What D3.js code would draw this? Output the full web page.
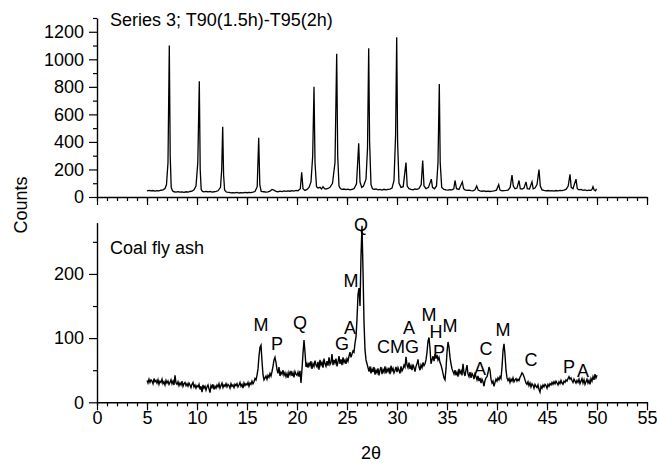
<!DOCTYPE html>
<html>
<head>
<meta charset="utf-8">
<script src="https://cdn.jsdelivr.net/npm/d3@7"></script>
<style>
  body { margin: 0; background: #fff; }
  svg text { font-family: "Liberation Sans", Arial, sans-serif; fill: #000; }
</style>
</head>
<body>
<svg id="chart" width="657" height="465"></svg>
<script>
// top pattern: [2theta, counts]
const seriesTop = [
  [5.0,45],[5.2,48],[5.4,44],[5.6,47],[5.8,43],[6.0,46],[6.2,44],[6.4,49],[6.6,52],[6.8,62],
  [6.95,90],[7.1,250],[7.23,1100],[7.32,300],[7.42,70],[7.55,45],[7.7,38],[7.9,36],[8.1,39],[8.3,35],
  [8.5,37],[8.7,34],[8.9,38],[9.1,36],[9.3,40],[9.5,42],[9.7,52],[9.9,80],[10.08,250],[10.23,840],
  [10.32,200],[10.42,55],[10.55,40],[10.7,38],[10.9,41],[11.1,37],[11.3,40],[11.5,36],[11.7,38],[11.9,41],
  [12.1,45],[12.35,70],[12.47,200],[12.57,510],[12.66,160],[12.76,50],[12.9,38],[13.0,35],[13.2,33],[13.4,30],
  [13.6,32],[13.8,30],[14.0,33],[14.2,29],[14.4,32],[14.6,30],[14.8,33],[15.0,31],[15.2,34],[15.4,32],
  [15.6,35],[15.8,40],[16.02,75],[16.17,430],[16.28,90],[16.42,40],[16.7,38],[16.9,35],[17.1,37],[17.3,42],
  [17.5,55],[17.7,50],[17.9,40],[18.1,37],[18.3,42],[18.5,39],[18.7,44],[18.9,41],[19.1,45],[19.3,42],
  [19.5,46],[19.7,43],[19.9,48],[20.1,45],[20.33,60],[20.47,180],[20.6,60],[20.8,48],[21.0,55],[21.2,70],
  [21.4,110],[21.57,300],[21.7,800],[21.8,250],[21.95,75],[22.1,65],[22.3,70],[22.45,58],[22.6,75],[22.75,60],
  [22.9,58],[23.1,62],[23.3,70],[23.55,100],[23.8,250],[23.97,1040],[24.07,300],[24.2,80],[24.35,60],[24.5,55],
  [24.7,58],[24.9,54],[25.1,57],[25.3,52],[25.5,56],[25.7,60],[25.95,95],[26.17,390],[26.3,110],[26.47,70],
  [26.65,80],[26.9,130],[27.05,350],[27.17,1080],[27.26,400],[27.4,90],[27.55,60],[27.7,55],[27.9,58],[28.1,52],
  [28.3,55],[28.5,50],[28.7,56],[28.9,52],[29.1,55],[29.3,58],[29.5,65],[29.7,120],[29.86,450],[29.97,1160],
  [30.06,400],[30.2,100],[30.4,70],[30.62,75],[30.9,250],[31.02,80],[31.2,60],[31.4,55],[31.6,52],[31.8,58],
  [32.0,55],[32.2,62],[32.42,90],[32.57,265],[32.7,80],[32.9,60],[33.15,70],[33.43,130],[33.55,70],[33.75,60],
  [33.95,80],[34.1,250],[34.23,820],[34.32,250],[34.47,70],[34.7,55],[34.9,52],[35.1,50],[35.3,54],[35.5,52],
  [35.68,60],[35.8,120],[35.95,60],[36.2,55],[36.53,110],[36.66,60],[36.8,52],[37.0,48],[37.2,50],[37.4,47],
  [37.6,45],[37.8,52],[37.97,80],[38.12,50],[38.3,45],[38.5,42],[38.7,44],[38.9,40],[39.1,43],[39.3,40],
  [39.5,42],[39.7,45],[39.95,50],[40.17,90],[40.3,50],[40.5,45],[40.7,47],[40.9,48],[41.1,50],[41.32,70],
  [41.5,160],[41.63,80],[41.8,60],[42.0,65],[42.2,120],[42.33,60],[42.5,58],[42.7,65],[42.9,110],[43.03,60],
  [43.25,58],[43.5,110],[43.62,60],[43.8,65],[44.0,90],[44.2,200],[44.33,80],[44.5,52],[44.7,48],[44.9,45],
  [45.1,47],[45.3,44],[45.5,46],[45.7,43],[45.9,47],[46.1,45],[46.3,48],[46.5,46],[46.7,50],[46.9,55],
  [47.12,80],[47.3,165],[47.42,70],[47.6,60],[47.9,130],[48.03,60],[48.2,52],[48.4,55],[48.6,48],[48.8,52],
  [49.0,47],[49.2,50],[49.4,48],[49.5,55],[49.6,75],[49.72,50],[49.85,45],[49.95,60]
];

// coal fly ash pattern: counts on the 0.1 deg scan grid from 5.0 to 50.0
const ashStart = 5.0;
const ashStep = 0.1;
const ashCounts = [
  34, 30, 36, 31, 35, 33, 29, 37, 32, 34,
  30, 35, 28, 33, 31, 36, 29, 32, 27, 34,
  30, 33, 28, 31, 35, 29, 33, 27, 42, 30,
  28, 32, 26, 30, 27, 33, 25, 29, 31, 26,
  29, 25, 30, 27, 23, 28, 31, 24, 27, 22,
  26, 24, 28, 20, 25, 16, 27, 22, 25, 19,
  24, 27, 21, 15, 26, 23, 28, 20, 25, 22,
  27, 24, 29, 22, 26, 30, 23, 27, 25, 29,
  24, 28, 26, 22, 29, 25, 27, 23, 28, 26,
  29, 24, 27, 31, 25, 28, 22, 30, 26, 29,
  27, 31, 25, 30, 28, 33, 29, 32, 37, 35,
  42, 52, 72, 86, 89, 64, 43, 35, 38, 41,
  36, 42, 39, 45, 41, 48, 56, 66, 70, 62,
  51, 45, 55, 41, 47, 44, 50, 42, 46, 40,
  45, 38, 47, 43, 49, 41, 46, 39, 48, 44,
  42, 47, 40, 49, 30, 52, 76, 97, 78, 55,
  60, 54, 62, 57, 64, 52, 60, 56, 65, 58,
  55, 63, 51, 66, 58, 62, 54, 68, 60, 56,
  64, 57, 70, 59, 62, 75, 58, 66, 61, 68,
  56, 63, 72, 60, 67, 58, 70, 62, 66, 60,
  68, 64, 72, 78, 70, 75, 80, 78, 92, 102,
  130, 168, 178, 150, 228, 275, 205, 125, 82, 66,
  60, 54, 48, 56, 45, 52, 47, 55, 43, 50,
  46, 53, 42, 50, 55, 44, 51, 47, 56, 45,
  52, 48, 54, 44, 57, 49, 53, 46, 50, 55,
  47, 54, 50, 45, 56, 49, 52, 58, 55, 71,
  58, 54, 62, 52, 57, 50, 59, 54, 48, 56,
  60, 67, 55, 50, 58, 54, 62, 57, 60, 66,
  78, 95, 101, 84, 60, 66, 72, 64, 75, 68,
  74, 66, 70, 62, 58, 52, 45, 38, 35, 52,
  78, 94, 86, 70, 60, 52, 48, 44, 50, 42,
  47, 40, 52, 45, 49, 42, 60, 46, 41, 50,
  58, 44, 40, 47, 38, 45, 42, 36, 44, 40,
  35, 41, 33, 38, 30, 36, 32, 25, 34, 38,
  40, 46, 55, 50, 36, 30, 33, 25, 31, 36,
  33, 38, 35, 40, 37, 55, 80, 91, 74, 50,
  38, 34, 37, 31, 36, 33, 38, 32, 35, 37,
  33, 36, 34, 39, 42, 46, 44, 40, 35, 30,
  28, 32, 26, 30, 24, 29, 27, 22, 28, 25,
  23, 27, 20, 16, 25, 22, 27, 24, 28, 26,
  22, 28, 25, 29, 27, 31, 28, 32, 29, 33,
  30, 27, 32, 29, 34, 30, 28, 33, 31, 35,
  33, 37, 40, 36, 38, 34, 31, 36, 33, 30,
  34, 31, 36, 29, 33, 37, 30, 35, 28, 32,
  36, 30, 34, 28, 37, 33, 40, 35, 44, 38,
  42
];

// phase labels on the lower panel: text, 2theta, counts (label centre)
const phaseLabels = [
  ["M", 16.4, 121], ["P", 18.0, 91], ["Q", 20.3, 124], ["G", 24.5, 92],
  ["A", 25.3, 116], ["M", 25.4, 189], ["Q", 26.4, 277], ["CMG", 30.1, 87],
  ["A", 31.2, 116], ["M", 33.2, 137], ["H", 33.9, 111], ["P", 34.2, 79],
  ["M", 35.3, 120], ["A", 38.3, 52], ["C", 38.9, 84], ["M", 40.6, 114],
  ["C", 43.4, 67], ["P", 47.2, 56], ["A", 48.6, 50]
];

const xMajor = [0, 5, 10, 15, 20, 25, 30, 35, 40, 45, 50, 55];
const xMinor = d3.range(0, 56, 1);
const topMajor = [0, 200, 400, 600, 800, 1000, 1200];
const topMinor = [100, 300, 500, 700, 900, 1100, 1300];
const ashMajor = [0, 100, 200];
const ashMinor = [50, 150, 250];

const svg = d3.select("#chart");
const fontSize = 18;

const x = d3.scaleLinear().domain([0, 55]).range([97, 647]);
const yTop = d3.scaleLinear().domain([0, 1300]).range([197, 18]);
const yAsh = d3.scaleLinear().domain([0, 280]).range([402.3, 222.6]);

function drawAxes(yScale, major, minor, showXLabels) {
  const y0 = yScale(0);

  const gxMinor = svg.append("g").attr("transform", `translate(0,${y0})`)
    .call(d3.axisBottom(x).tickValues(xMinor).tickSize(4).tickSizeOuter(0).tickFormat(""));
  gxMinor.select(".domain").remove();

  const gx = svg.append("g").attr("transform", `translate(0,${y0})`)
    .call(d3.axisBottom(x).tickValues(xMajor).tickSize(8).tickSizeOuter(0).tickPadding(1)
      .tickFormat(showXLabels ? d3.format("d") : ""));

  const gyMinor = svg.append("g").attr("transform", `translate(${x(0)},0)`)
    .call(d3.axisLeft(yScale).tickValues(minor).tickSize(4).tickSizeOuter(0).tickFormat(""));
  gyMinor.select(".domain").remove();

  const gy = svg.append("g").attr("transform", `translate(${x(0)},0)`)
    .call(d3.axisLeft(yScale).tickValues(major).tickSize(8).tickSizeOuter(0).tickPadding(5)
      .tickFormat(d3.format("d")));

  [gxMinor, gx, gyMinor, gy].forEach((g) => {
    g.selectAll("line").attr("stroke", "#000").attr("stroke-width", 1.2);
    g.selectAll(".domain").attr("stroke", "#000").attr("stroke-width", 1.4);
    g.selectAll("text")
      .attr("font-size", fontSize)
      .style("font-family", "'Liberation Sans', Arial, sans-serif");
  });
}

drawAxes(yTop, topMajor, topMinor, false);
drawAxes(yAsh, ashMajor, ashMinor, true);

const lineTop = d3.line().x((d) => x(d[0])).y((d) => yTop(d[1]));
svg.append("path")
  .datum(seriesTop)
  .attr("fill", "none")
  .attr("stroke", "#000")
  .attr("stroke-width", 1.3)
  .attr("d", lineTop);

const ashData = ashCounts.map((c, i) => [ashStart + i * ashStep, c]);
const lineAsh = d3.line().x((d) => x(d[0])).y((d) => yAsh(d[1]));
svg.append("path")
  .datum(ashData)
  .attr("fill", "none")
  .attr("stroke", "#000")
  .attr("stroke-width", 1.4)
  .attr("d", lineAsh);

svg.selectAll(".phase")
  .data(phaseLabels)
  .join("text")
  .attr("class", "phase")
  .attr("x", (d) => x(d[1]))
  .attr("y", (d) => yAsh(d[2]))
  .attr("dy", "0.36em")
  .attr("text-anchor", "middle")
  .attr("font-size", fontSize)
  .text((d) => d[0]);

svg.append("text")
  .attr("x", 110).attr("y", 26)
  .attr("font-size", fontSize)
  .text("Series 3; T90(1.5h)-T95(2h)");

svg.append("text")
  .attr("x", 110).attr("y", 254)
  .attr("font-size", fontSize)
  .text("Coal fly ash");

svg.append("text")
  .attr("transform", "translate(27,205) rotate(-90)")
  .attr("text-anchor", "middle")
  .attr("font-size", fontSize)
  .text("Counts");

svg.append("text")
  .attr("x", 371).attr("y", 459)
  .attr("text-anchor", "middle")
  .attr("font-size", fontSize)
  .text("2θ");
</script>
</body>
</html>
